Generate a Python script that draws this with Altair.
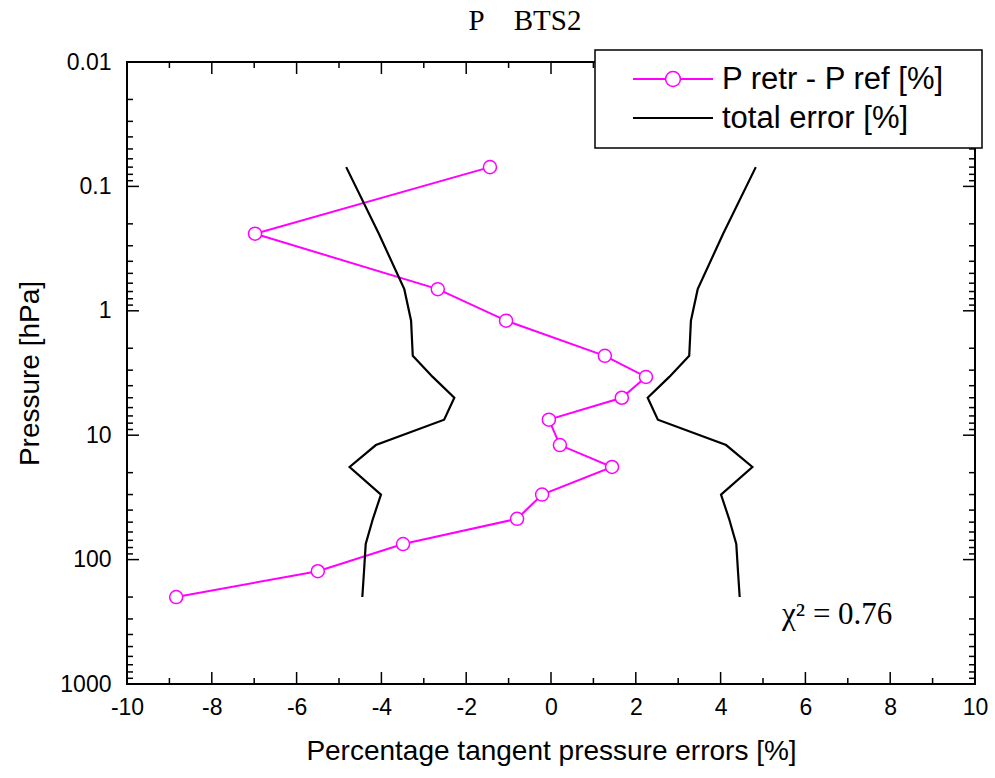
import altair as alt
import pandas as pd

# Retrieved minus reference tangent pressure, per tangent level
pressure = [0.07, 0.24, 0.67, 1.2, 2.3, 3.4, 5.0, 7.5, 12, 18, 30, 47, 75, 124, 200]
p_diff = [-1.44, -6.98, -2.67, -1.06, 1.27, 2.24, 1.67, -0.05, 0.21, 1.44,
          -0.21, -0.80, -3.49, -5.50, -8.84]
# Total error envelope (drawn as +/-)
total_err = [4.83, 4.06, 3.46, 3.30, 3.26, 2.79, 2.28, 2.52, 4.13, 4.75,
             4.01, 4.20, 4.37, 4.41, 4.45]

x_major = [-10, -8, -6, -4, -2, 0, 2, 4, 6, 8, 10]
x_minor = [-9, -7, -5, -3, -1, 1, 3, 5, 7, 9]
y_major = [0.01, 0.1, 1, 10, 100, 1000]
mantissas = [2, 3, 4, 5, 6, 7, 8, 9]
y_minor = [m * d for d in [0.01, 0.1, 1, 10, 100] for m in mantissas]

W, H = 848, 622
FONT = "Liberation Sans"
SERIF = "Liberation Serif"

xs = alt.Scale(domain=[-10, 10], nice=False, zero=False)
ys = alt.Scale(type="log", domain=[0.01, 1000], reverse=True, nice=False)

diff_df = pd.DataFrame({"p": pressure, "diff": p_diff, "idx": range(len(pressure))})
err_rows = []
for i, (p, e) in enumerate(zip(pressure, total_err)):
    err_rows.append({"p": p, "err": -e, "side": "neg", "idx": i})
    err_rows.append({"p": p, "err": e, "side": "pos", "idx": i})
err_df = pd.DataFrame(err_rows)

x_axis = alt.Axis(values=x_major, labelExpr="toString(datum.value)",
                  ticks=False, domain=False, grid=False, labelFlush=False,
                  labelOverlap=False,
                  labelFont=FONT, labelFontSize=23, labelColor="black",
                  labelPadding=12, title="Percentage tangent pressure errors [%]",
                  titleFont=FONT, titleFontSize=28, titleFontWeight="normal",
                  titleColor="black", titleX=W / 2, titleY=67,
                  titleBaseline="middle")
y_axis = alt.Axis(values=y_major, format=".2~f", ticks=False, domain=False,
                  grid=False, labelFlush=False, labelOverlap=False,
                  labelFont=FONT, labelFontSize=23,
                  labelColor="black", labelPadding=16, title="Pressure [hPa]",
                  titleFont=FONT, titleFontSize=28, titleFontWeight="normal",
                  titleColor="black", titleX=-97, titleY=H / 2,
                  titleAngle=-90, titleBaseline="middle")


def X(field):
    return alt.X(field, scale=xs, axis=x_axis)


def Y(field):
    return alt.Y(field, scale=ys, axis=y_axis)


err_lines = alt.Chart(err_df).mark_line(color="black", strokeWidth=2.2).encode(
    x=X("err:Q"), y=Y("p:Q"), detail="side:N", order="idx:Q",
)

diff_line = alt.Chart(diff_df).mark_line(color="#ff00ff", strokeWidth=2).encode(
    x=X("diff:Q"), y=Y("p:Q"), order="idx:Q",
)
diff_pts = alt.Chart(diff_df).mark_point(
    shape="circle", filled=False, fill="white", fillOpacity=1,
    stroke="#ff00ff", strokeWidth=1.5, size=170, opacity=1
).encode(x=X("diff:Q"), y=Y("p:Q"))


# Inward-pointing ticks on all four sides
def xticks(vals, length):
    df = pd.DataFrame({"v": vals})
    base = alt.Chart(df).mark_rule(color="black", strokeWidth=1.5)
    bottom = base.encode(x=X("v:Q"), y=alt.value(H), y2=alt.value(H - length))
    top = base.encode(x=X("v:Q"), y=alt.value(0), y2=alt.value(length))
    return [bottom, top]


def yticks(vals, length):
    df = pd.DataFrame({"v": vals})
    base = alt.Chart(df).mark_rule(color="black", strokeWidth=1.5)
    left = base.encode(y=Y("v:Q"), x=alt.value(0), x2=alt.value(length))
    right = base.encode(y=Y("v:Q"), x=alt.value(W), x2=alt.value(W - length))
    return [left, right]


tick_layers = (xticks(x_major, 12) + xticks(x_minor, 6)
               + yticks(y_major, 12) + yticks(y_minor, 6))

chi_df = pd.DataFrame({"x": [5.45], "p": [280], "t": ["\u03c7\u00b2 = 0.76"]})
chi_text = alt.Chart(chi_df).mark_text(
    font=SERIF, fontSize=31, align="left", baseline="middle", color="black"
).encode(x=X("x:Q"), y=Y("p:Q"), text="t:N")

# Legend box
one = diff_df.head(1)
leg_box = alt.Chart(one).mark_rect(
    fill="white", stroke="black", strokeWidth=1.5
).encode(x=alt.value(468), x2=alt.value(855), y=alt.value(-12), y2=alt.value(86))
leg_pink = alt.Chart(one).mark_rule(color="#ff00ff", strokeWidth=2).encode(
    x=alt.value(506), x2=alt.value(586), y=alt.value(17))
leg_circle = alt.Chart(one).mark_point(
    shape="circle", filled=False, fill="white", fillOpacity=1,
    stroke="#ff00ff", strokeWidth=1.5, size=220, opacity=1
).encode(x=alt.value(546), y=alt.value(17))
leg_black = alt.Chart(one).mark_rule(color="black", strokeWidth=2).encode(
    x=alt.value(506), x2=alt.value(586), y=alt.value(56))
leg_text1 = alt.Chart(one).mark_text(
    font=FONT, fontSize=31, align="left", baseline="middle", color="black"
).encode(x=alt.value(595), y=alt.value(18), text=alt.value("P retr - P ref [%]"))
leg_text2 = alt.Chart(one).mark_text(
    font=FONT, fontSize=31, align="left", baseline="middle", color="black"
).encode(x=alt.value(595), y=alt.value(57), text=alt.value("total error [%]"))

chart = alt.layer(
    diff_line, err_lines, diff_pts, *tick_layers, chi_text,
    leg_box, leg_pink, leg_circle, leg_black, leg_text1, leg_text2,
).properties(
    width=W, height=H,
    title=alt.TitleParams("P\u00a0\u00a0\u00a0\u00a0BTS2", font=SERIF, fontSize=29,
                          fontWeight="normal", color="black", anchor="middle",
                          offset=13, dx=-26),
    autosize=alt.AutoSizeParams(type="none"),
    padding={"left": 127, "top": 62, "right": 20, "bottom": 94},
).configure(background="white").configure_view(stroke="black", strokeWidth=2)

chart.save("out.html", embed_options={"renderer": "svg", "actions": False})
